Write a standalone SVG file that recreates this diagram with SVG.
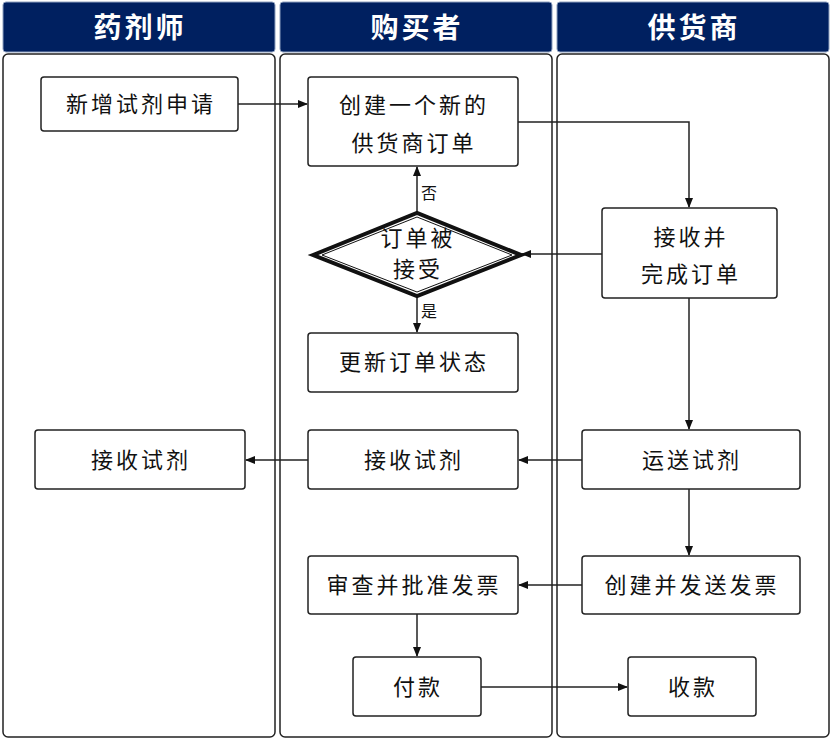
<svg xmlns="http://www.w3.org/2000/svg" width="831" height="740" viewBox="0 0 831 740">
<style>
.hd{fill:#002060;stroke:#8ea0bf;stroke-width:1}
.ht{fill:#fff;font-family:"Noto Sans CJK SC",sans-serif;font-size:28px;font-weight:bold;text-anchor:middle;letter-spacing:3px}
.lane{fill:#fff;stroke:#222;stroke-width:1.5}
.nd{fill:#fff;stroke:#222;stroke-width:1.5}
.t{font-family:"Noto Sans CJK SC",sans-serif;font-size:22px;text-anchor:middle;fill:#111;letter-spacing:3px}
.s{font-family:"Noto Sans CJK SC",sans-serif;font-size:16px;fill:#111}
.c{fill:none;stroke:#222;stroke-width:1.5;marker-end:url(#a)}
</style>
<defs><marker id="a" markerWidth="10" markerHeight="8" refX="9" refY="4" orient="auto" markerUnits="userSpaceOnUse"><path d="M0,0 L10,4 L0,8 z" fill="#111"/></marker></defs>
<g id="lanes">
<rect class="hd" x="3" y="2" width="272" height="50" rx="3"/><text class="ht" x="140" y="38">药剂师</text>
<rect class="hd" x="280" y="2" width="272" height="50" rx="3"/><text class="ht" x="417" y="38">购买者</text>
<rect class="hd" x="557" y="2" width="272" height="50" rx="3"/><text class="ht" x="694" y="38">供货商</text>
<rect class="lane" x="3" y="54" width="272" height="683" rx="5"/>
<rect class="lane" x="280" y="54" width="272" height="683" rx="5"/>
<rect class="lane" x="557" y="54" width="272" height="683" rx="5"/>
</g>
<g id="connectors">
<path class="c" d="M238,104 H307"/>
<path class="c" d="M518,122 H689 V207"/>
<path class="c" d="M602,254 H522"/>
<path class="c" d="M417,213 V167"/>
<path class="c" d="M417,296 V332"/>
<path class="c" d="M689,298 V429"/>
<path class="c" d="M582,460 H519"/>
<path class="c" d="M308,460 H246"/>
<path class="c" d="M689,489 V555"/>
<path class="c" d="M582,585 H519"/>
<path class="c" d="M417,614 V656"/>
<path class="c" d="M481,687 H627"/>
<text class="s" x="421" y="199">否</text>
<text class="s" x="421" y="317">是</text>
</g>
<g id="n1"><rect class="nd" x="41" y="77" width="197" height="54" rx="3"/><text class="t" x="141" y="112">新增试剂申请</text></g>
<g id="n2"><rect class="nd" x="308" y="77" width="210" height="89" rx="3"/><text class="t" x="414" y="113">创建一个新的</text><text class="t" x="414" y="151">供货商订单</text></g>
<g id="n3"><path d="M313,255 L417,213 L521,255 L417,296 Z" fill="#fff" stroke="#111" stroke-width="4"/><path d="M322,255 L417,217 L512,255 L417,292 Z" fill="none" stroke="#111" stroke-width="1"/><text class="t" x="418" y="246">订单被</text><text class="t" x="418" y="277">接受</text></g>
<g id="n4"><rect class="nd" x="602" y="208" width="175" height="90" rx="3"/><text class="t" x="691" y="245">接收并</text><text class="t" x="691" y="282">完成订单</text></g>
<g id="n5"><rect class="nd" x="308" y="333" width="210" height="59" rx="3"/><text class="t" x="414" y="370">更新订单状态</text></g>
<g id="n6"><rect class="nd" x="35" y="430" width="210" height="59" rx="3"/><text class="t" x="141" y="468">接收试剂</text></g>
<g id="n7"><rect class="nd" x="308" y="430" width="210" height="59" rx="3"/><text class="t" x="414" y="468">接收试剂</text></g>
<g id="n8"><rect class="nd" x="582" y="430" width="218" height="59" rx="3"/><text class="t" x="692" y="468">运送试剂</text></g>
<g id="n9"><rect class="nd" x="308" y="556" width="210" height="58" rx="3"/><text class="t" x="414" y="593">审查并批准发票</text></g>
<g id="n10"><rect class="nd" x="582" y="556" width="218" height="58" rx="3"/><text class="t" x="692" y="593">创建并发送发票</text></g>
<g id="n11"><rect class="nd" x="353" y="657" width="128" height="59" rx="3"/><text class="t" x="418" y="695">付款</text></g>
<g id="n12"><rect class="nd" x="628" y="657" width="128" height="59" rx="3"/><text class="t" x="693" y="695">收款</text></g>
</svg>
